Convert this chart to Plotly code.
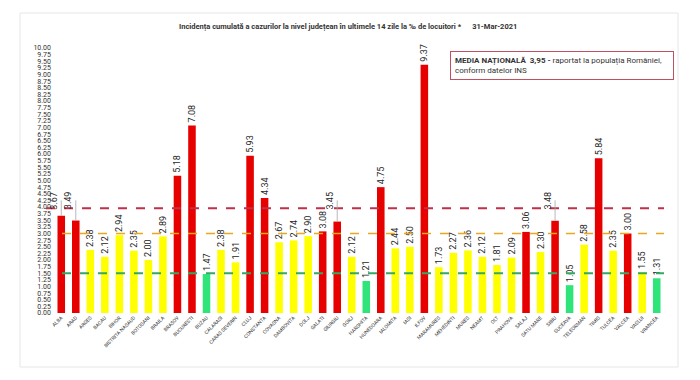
import plotly.graph_objects as go

counties = ["ALBA", "ARAD", "ARGES", "BACAU", "BIHOR", "BISTRITA NASAUD", "BOTOSANI", "BRAILA",
            "BRASOV", "BUCURESTI", "BUZAU", "CALARASI", "CARAS SEVERIN", "CLUJ", "CONSTANTA",
            "COVASNA", "DAMBOVITA", "DOLJ", "GALATI", "GIURGIU", "GORJ", "HARGHITA", "HUNEDOARA",
            "IALOMITA", "IASI", "ILFOV", "MARAMURES", "MEHEDINTI", "MURES", "NEAMT", "OLT",
            "PRAHOVA", "SALAJ", "SATU MARE", "SIBIU", "SUCEAVA", "TELEORMAN", "TIMIS", "TULCEA",
            "VALCEA", "VASLUI", "VRANCEA"]
incidence = [3.67, 3.49, 2.38, 2.12, 2.94, 2.35, 2.00, 2.89, 5.18, 7.08, 1.47, 2.38, 1.91, 5.93,
             4.34, 2.67, 2.74, 2.90, 3.08, 3.45, 2.12, 1.21, 4.75, 2.44, 2.50, 9.37, 1.73, 2.27,
             2.36, 2.12, 1.81, 2.09, 3.06, 2.30, 3.48, 1.05, 2.58, 5.84, 2.35, 3.00, 1.55, 1.31]
national_avg = 3.95
thresholds = [3.0, 1.5]
y_ticks = [i * 0.25 for i in range(41)]

RED, YELLOW, GREEN = "#e60000", "#ffff00", "#2fe57a"


def color_for(v):
    if v >= thresholds[0]:
        return RED
    if v >= thresholds[1]:
        return YELLOW
    return GREEN


colors = [color_for(v) for v in incidence]
# labels that would cross the national-average line are lifted above it with a leader line
LABEL_SPAN = 0.6
lifted = [v < national_avg < v + LABEL_SPAN for v in incidence]
bar_text = ["" if lf else f"{v:.2f}" for v, lf in zip(incidence, lifted)]

W, H = 700, 380
L, R, T, B = 46, 44, 40, 75
PW, PH = W - L - R, H - T - B


def px_x(x):
    return (x - L) / PW


def px_y(y):
    return (H - B - y) / PH


FONT = "Liberation Sans Narrow, Roboto, Arial, sans-serif"
LABEL_FONT = dict(size=9, color="#262626", family=FONT)

fig = go.Figure()
fig.add_trace(go.Bar(
    x=counties, y=incidence, marker_color=colors, marker_line_width=0, width=0.52,
    text=bar_text, texttemplate="%{text}", textposition="outside", textangle=-90,
    constraintext="none", textfont=LABEL_FONT, cliponaxis=False,
    hoverinfo="x+y",
))

shapes = [
    dict(type="line", xref="paper", yref="y", x0=px_x(38), x1=px_x(656), y0=national_avg, y1=national_avg,
         line=dict(color="#c0304a", width=2, dash="dash")),
    dict(type="line", xref="paper", yref="y", x0=px_x(54), x1=px_x(656), y0=thresholds[0], y1=thresholds[0],
         line=dict(color="#e8a820", width=1.5, dash="dash")),
    dict(type="line", xref="paper", yref="y", x0=px_x(54), x1=px_x(656), y0=thresholds[1], y1=thresholds[1],
         line=dict(color="#34a866", width=2, dash="dash")),
    dict(type="rect", xref="paper", yref="paper", x0=px_x(12), x1=px_x(670), y0=px_y(359), y1=px_y(5),
         line=dict(color="#e6e6e6", width=1), layer="below"),
]

annotations = [
    dict(xref="paper", yref="paper", x=px_x(340), y=px_y(19), xanchor="center", yanchor="middle",
         showarrow=False,
         text="<b>Incidența cumulată a cazurilor la nivel județean în ultimele 14 zile la ‰ de locuitori *"
              "&nbsp;&nbsp;&nbsp;&nbsp;&nbsp;&nbsp;31-Mar-2021</b>",
         font=dict(size=7.5, color="#333333", family=FONT)),
    dict(xref="paper", yref="paper", x=px_x(442), y=px_y(43), xanchor="left", yanchor="top",
         showarrow=False, align="left", bgcolor="white", bordercolor="#c05060", borderwidth=1,
         borderpad=4,
         text="<b>MEDIA NAȚIONALĂ  3,95 -</b> raportat la populația României,&nbsp;&nbsp;&nbsp;&nbsp;"
              "<br>conform datelor INS",
         font=dict(size=8, color="#333333", family=FONT)),
]

for c, v, lf in zip(counties, incidence, lifted):
    if lf:
        annotations.append(dict(
            x=c, y=v, xref="x", yref="y", axref="x", ayref="y", ax=c, ay=national_avg + 0.3,
            text=f"{v:.2f}", textangle=-90, showarrow=True, arrowhead=0, arrowwidth=0.8,
            arrowcolor="#a6a6a6", yanchor="bottom", xanchor="center", font=LABEL_FONT,
            standoff=0, startstandoff=0,
        ))

fig.update_layout(
    width=W, height=H, margin=dict(l=L, r=R, t=T, b=B),
    paper_bgcolor="white", plot_bgcolor="white",
    showlegend=False, bargap=0.5,
    shapes=shapes, annotations=annotations,
    font=dict(family=FONT, color="#333333"),
)
fig.update_xaxes(tickangle=-45, tickfont=dict(size=5, color="#333333", family=FONT),
                 showgrid=False, showline=False, ticks="", range=[-0.5, len(counties) - 0.5])
fig.update_yaxes(range=[0, 10], tickvals=y_ticks, ticktext=[f"{v:.2f}" for v in y_ticks],
                 tickfont=dict(size=7, color="#333333", family=FONT), showgrid=False,
                 zeroline=False, showline=False, ticks="", ticklabelstandoff=2)

fig.write_html("out.html")
